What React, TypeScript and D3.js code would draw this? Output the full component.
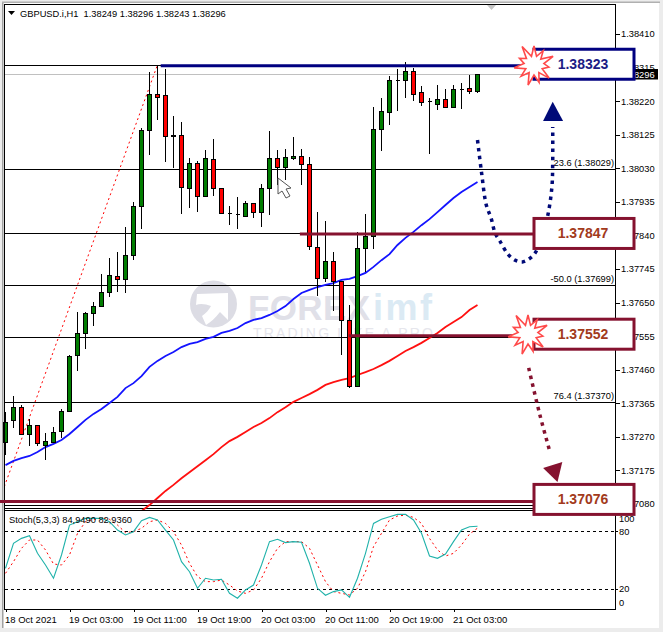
import { useRef, useEffect } from "react";
import * as d3 from "d3";

const opens = [1.37255,1.37318,1.37354,1.37278,1.37303,1.37247,1.37255,1.37286,1.37343,1.37502,1.37564,1.3762,1.3764,1.3768,1.37725,1.37717,1.37785,1.37923,1.38138,1.3824,1.38237,1.38124,1.38124,1.37974,1.38045,1.37952,1.38056,1.37974,1.37903,1.37901,1.37895,1.37932,1.37906,1.37974,1.38059,1.38034,1.38059,1.38065,1.38042,1.37807,1.37719,1.37768,1.37711,1.37601,1.37414,1.37804,1.37838,1.38141,1.38189,1.3828,1.3828,1.38305,1.38246,1.3822,1.38212,1.38226,1.38203,1.38254,1.38257,1.38249];
const highs = [1.3734,1.37386,1.3736,1.3732,1.37303,1.37281,1.37298,1.37349,1.37502,1.37623,1.37623,1.37652,1.37731,1.37776,1.37793,1.37864,1.37935,1.38144,1.38302,1.38319,1.38311,1.38178,1.38161,1.38059,1.38051,1.38082,1.38113,1.37974,1.37923,1.37949,1.37937,1.37932,1.37986,1.38135,1.38082,1.38085,1.38119,1.38085,1.38062,1.37906,1.37881,1.37793,1.37711,1.37643,1.3785,1.37901,1.38203,1.38229,1.38291,1.38311,1.38331,1.38314,1.38263,1.38229,1.38266,1.38254,1.38266,1.38271,1.38294,1.38296];
const lows = [1.37219,1.37295,1.37278,1.37244,1.37244,1.37204,1.37255,1.37267,1.37343,1.37456,1.37519,1.37584,1.3764,1.37666,1.3768,1.37677,1.3777,1.37858,1.38068,1.38167,1.38048,1.38031,1.37901,1.37918,1.37906,1.37952,1.37952,1.37903,1.37869,1.37858,1.37895,1.37889,1.37864,1.37898,1.37983,1.37997,1.38053,1.37983,1.37799,1.37669,1.37708,1.37626,1.37502,1.37408,1.37411,1.37736,1.37802,1.38079,1.38152,1.38192,1.38229,1.3822,1.38206,1.3807,1.38195,1.38201,1.38203,1.38198,1.3824,1.38243];
const closes = [1.37312,1.37354,1.37278,1.37303,1.37253,1.37258,1.37284,1.37343,1.37499,1.37564,1.3762,1.3764,1.3768,1.37728,1.37717,1.37785,1.37923,1.38138,1.3824,1.38232,1.38121,1.38121,1.37977,1.38045,1.37952,1.38059,1.37974,1.37903,1.37903,1.37901,1.37932,1.37906,1.37974,1.38059,1.38034,1.38062,1.38065,1.38042,1.3781,1.37719,1.37768,1.37711,1.37601,1.37414,1.37804,1.37838,1.38141,1.38192,1.3828,1.3828,1.38305,1.3824,1.38218,1.3822,1.38226,1.38203,1.38254,1.38254,1.38249,1.38296];

const blueMa = [1.3719,1.37202,1.3721,1.37216,1.37227,1.37241,1.3725,1.37261,1.37278,1.37298,1.37318,1.37335,1.37349,1.37366,1.37383,1.37408,1.37422,1.37442,1.37468,1.37485,1.37499,1.3751,1.37524,1.37533,1.37538,1.37547,1.37553,1.37564,1.3757,1.37578,1.37592,1.37601,1.37606,1.37615,1.37626,1.3764,1.3766,1.37677,1.37686,1.37694,1.377,1.37705,1.37714,1.37717,1.37725,1.37734,1.37751,1.3777,1.37787,1.37813,1.37833,1.3785,1.37869,1.37886,1.37906,1.37926,1.37946,1.37963,1.37977,1.37991];
const redMaStart = 17;
const redMa = [1.3706,1.37077,1.37097,1.37117,1.37134,1.37153,1.3717,1.37187,1.37204,1.37221,1.37241,1.37258,1.3727,1.37284,1.37298,1.37309,1.37323,1.3734,1.37354,1.37369,1.3738,1.37391,1.37403,1.37417,1.37425,1.37431,1.37436,1.37445,1.37453,1.37462,1.37473,1.37485,1.37499,1.37513,1.37524,1.37536,1.3755,1.37564,1.37581,1.37595,1.37609,1.37629,1.37643];

const stochMain = [41.4,67.2,72.4,75.2,56.9,44.8,31.1,55.2,86.2,89.7,93.1,93.1,93.1,89.7,81,75.9,79.3,90.7,94.1,91.4,81,70.7,48.3,37.9,20.7,31.1,29.3,30,15.5,10.4,19,24.1,44.8,69,71.4,68,69,68.3,46.6,20.7,13.5,17.3,19,11.4,31.1,56.9,87.9,92.1,94.8,97.2,97.2,91.4,77.6,54.1,51.7,56.2,69,81,84.5,84.95];
const stochSignal = [36.2,48.3,62.1,70.7,70.7,60.4,45.9,44.8,55.2,77.6,89.7,92.1,93.1,92.1,86.2,78.3,79.3,82.8,89.7,91.4,87.9,79.3,65.5,46.6,32.8,27.6,27.6,29.3,24.1,17.9,15.5,19,31.1,48.3,62.1,69,69,69,62.1,44.8,27.6,17.3,15.5,13.8,20.7,37.9,63.8,77.6,91.4,95.5,96.5,94.1,87.9,72.4,60.4,54.1,56.9,65.5,76.9,82.94];

const priceTicks = [1.3841,1.38315,1.3822,1.38125,1.3803,1.37935,1.3784,1.37745,1.3765,1.37555,1.3746,1.37365,1.3727,1.37175,1.3708];
const timeTicks = [0,8,16,24,32,40,48,56];
const timeLabels = ["18 Oct 2021","19 Oct 03:00","19 Oct 11:00","19 Oct 19:00","20 Oct 03:00","20 Oct 11:00","20 Oct 19:00","21 Oct 03:00"];
const fibLevels = [1.38323,1.38029,1.37847,1.37699,1.37552,1.3737,1.37076];
const fibLabels = [
  { level: 1.38029, text: "23.6 (1.38029)" },
  { level: 1.37699, text: "-50.0 (1.37699)" },
  { level: 1.3737, text: "76.4 (1.37370)" },
];
const stochLevels = [80, 20];
const stochLabels = [100, 80, 20, 0];

// bar index / price pairs for the hand drawn arrows on top of the chart
const navyPath: [number, number][] = [[59,1.3811],[59.5,1.38019],[60.1,1.37926],[60.7,1.37889],[61.2,1.37847],[61.8,1.37824],[62.8,1.37787],[63.7,1.3777],[64.6,1.37765],[65.4,1.37773],[66.2,1.3779],[67.1,1.37841],[67.8,1.37898],[68.3,1.37977],[68.4,1.38045],[68.4,1.38147]];
const navyHead: [number, number][] = [[67.2,1.38164],[69.7,1.38164],[68.4,1.38218]];
const maroonPath: [number, number][] = [[65.4,1.37465],[66.8,1.37332],[68.1,1.37224]];
const maroonHead: [number, number][] = [[67.2,1.37182],[69.6,1.37199],[69,1.37142]];

const boxes = [
  { level: 1.38323, from: 19.4, color: "#000080", text: "#1c1c85", shift: -0.5, lineShift: 1 },
  { level: 1.37847, from: 36.8, color: "#85122f", text: "#a23a1c", shift: 0.5, lineShift: 1 },
  { level: 1.37552, from: 42.9, color: "#85122f", text: "#a23a1c", shift: -3, lineShift: -1.5 },
  { level: 1.37076, from: -1, color: "#85122f", text: "#a23a1c", shift: -6, lineShift: -4 },
];
const burstRadii = [19, 9, 17, 9, 21, 10, 15, 9, 20, 9, 18, 10, 21, 9, 17, 9, 20, 10, 16, 10, 22, 9];

export default function App() {
  const ref = useRef<SVGSVGElement | null>(null);

  useEffect(() => {
    const svg = d3.select(ref.current);
    svg.selectAll("*").remove();

    const width = 663;
    const height = 632;
    const font = "'Liberation Sans', Arial, sans-serif";
    const fs = 9.3;
    const left = 5;
    const axisX = 615;
    const mainBottom = 510;
    const stochBottom = 609;

    const x = d3.scaleLinear().domain([0, 59]).range([5.5, 477.5]);
    const y = d3.scaleLinear().domain([1.3708, 1.3841]).range([504, 34]);
    const yS = d3.scaleLinear().domain([0, 100]).range([608.3, 511.7]);
    const px = (v: number) => Math.round(v) + 0.5;

    svg.append("rect").attr("width", width).attr("height", height).attr("fill", "#ececec");
    svg.append("rect").attr("x", 3).attr("y", 3).attr("width", 656).attr("height", 625).attr("fill", "#fff");
    svg.append("rect").attr("x", 2).attr("y", 2).attr("width", 1.5).attr("height", 626).attr("fill", "#a0a0a0");
    svg.append("rect").attr("x", 2).attr("y", 1.5).attr("width", 658).attr("height", 1.5).attr("fill", "#b0b0b0");

    const defs = svg.append("defs");
    defs.append("clipPath").attr("id", "main").append("rect")
      .attr("x", left).attr("y", 5).attr("width", axisX - left).attr("height", mainBottom - 5);
    defs.append("clipPath").attr("id", "stoch").append("rect")
      .attr("x", left).attr("y", mainBottom + 1).attr("width", axisX - left).attr("height", stochBottom - mainBottom - 1);

    // watermark
    const wm = svg.append("g");
    wm.append("circle").attr("cx", 213.5).attr("cy", 304).attr("r", 23.5).attr("fill", "#dcdce4");
    wm.append("path").attr("d", "M197 294 L228 293 V320 L220 312 C215 318 211 322 206 325 L202 316 C206 313 209 310 211 306 C206 304 200 303 196 305 Z").attr("fill", "#fff");
    wm.append("text").attr("x", 248).attr("y", 320).attr("font-family", font).attr("font-weight", "bold")
      .attr("font-size", 35).attr("fill", "#e0e0e8").attr("textLength", 122).text("FOREX");
    wm.append("text").attr("x", 373).attr("y", 320).attr("font-family", font).attr("font-weight", "bold")
      .attr("font-size", 36).attr("fill", "#dbeaf4").attr("textLength", 59).text("imf");
    wm.append("text").attr("x", 253).attr("y", 338).attr("font-family", font)
      .attr("font-size", 14).attr("fill", "#e6e6ec").attr("textLength", 180).text("TRADING LIKE A PRO");

    // fibo levels, two more close lines at the bottom
    const grid = svg.append("g").attr("shape-rendering", "crispEdges");
    fibLevels.forEach((l) => {
      grid.append("line").attr("x1", left).attr("x2", axisX).attr("y1", px(y(l))).attr("y2", px(y(l)))
        .attr("stroke", "#000").attr("stroke-width", 1);
    });
    grid.append("line").attr("x1", left).attr("x2", axisX).attr("y1", px(y(1.37076) + 2.5)).attr("y2", px(y(1.37076) + 2.5))
      .attr("stroke", "#000");
    grid.append("line").attr("x1", left).attr("x2", axisX).attr("y1", px(y(closes[59]))).attr("y2", px(y(closes[59])))
      .attr("stroke", "#c0c0c0");

    fibLabels.forEach((f) => {
      svg.append("text").attr("x", 614).attr("y", y(f.level) - 3).attr("text-anchor", "end")
        .attr("font-family", font).attr("font-size", fs).attr("fill", "#000").text(f.text);
    });

    // fibo trend line
    svg.append("path").attr("clip-path", "url(#main)")
      .attr("d", d3.line()([[x(-1), y(1.37076)], [x(19), y(1.38323)]]))
      .attr("stroke", "#ff0000").attr("stroke-dasharray", "2 3").attr("fill", "none");

    // moving averages under the candles
    const lineIdx = d3.line<number>().x((_, i) => x(i)).y((d) => y(d));
    svg.append("path").attr("clip-path", "url(#main)").attr("d", lineIdx(blueMa))
      .attr("fill", "none").attr("stroke", "#1414ff").attr("stroke-width", 1.8);
    const lineRed = d3.line<number>().x((_, i) => x(i + redMaStart)).y((d) => y(d));
    svg.append("path").attr("clip-path", "url(#main)").attr("d", lineRed(redMa))
      .attr("fill", "none").attr("stroke", "#ff1010").attr("stroke-width", 1.8);

    // candles
    const candles = svg.append("g").attr("shape-rendering", "crispEdges");
    opens.forEach((o, i) => {
      const c = closes[i];
      const cx = Math.floor(x(i)) + 0.5;
      candles.append("line").attr("x1", cx).attr("x2", cx).attr("y1", Math.round(y(highs[i]))).attr("y2", Math.round(y(lows[i])))
        .attr("stroke", "#000");
      const y0 = px(y(Math.max(o, c)));
      const y1 = px(y(Math.min(o, c)));
      candles.append("path").attr("d", `M${cx - 2} ${y0}H${cx + 2}V${y1}H${cx - 2}Z`)
        .attr("fill", c >= o ? "#007d00" : "#ff0000").attr("stroke", "#000");
    });

    // mouse pointer left in the screenshot
    svg.append("path").attr("d", "M278 178 L278 194 L282 191 L286 198 L290 196 L286 189 L291 188 Z")
      .attr("fill", "#fff").attr("stroke", "#555").attr("stroke-width", 1);

    // stochastic panel
    const stoch = svg.append("g").attr("clip-path", "url(#stoch)");
    stochLevels.forEach((l) => {
      stoch.append("line").attr("x1", left).attr("x2", axisX).attr("y1", px(yS(l))).attr("y2", px(yS(l)))
        .attr("stroke", "#000").attr("stroke-dasharray", "3 3").attr("shape-rendering", "crispEdges");
    });
    const lineS = d3.line<number>().x((_, i) => x(i)).y((d) => yS(d));
    stoch.append("path").attr("d", lineS(stochSignal)).attr("fill", "none").attr("stroke", "#ff0000").attr("stroke-dasharray", "2 3");
    stoch.append("path").attr("d", lineS(stochMain)).attr("fill", "none").attr("stroke", "#20b2aa").attr("stroke-width", 1.1);
    svg.append("text").attr("x", 9).attr("y", 523).attr("font-family", font).attr("font-size", fs)
      .text("Stoch(5,3,3) 84,9490 82,9360");

    // title
    svg.append("path").attr("d", "M8 11H15L11.5 15Z").attr("fill", "#000");
    svg.append("text").attr("x", 20).attr("y", 16.5).attr("font-family", font).attr("font-size", fs).attr("xml:space", "preserve")
      .text("GBPUSD.i,H1  1.38249 1.38296 1.38243 1.38296");

    // little marker on top
    svg.append("path").attr("d", "M487 5H496L491.5 10Z").attr("fill", "#c4c4c4");

    // panel frames
    const frame = svg.append("g").attr("shape-rendering", "crispEdges").attr("stroke", "#000").attr("fill", "none");
    frame.append("path").attr("d", `M${left - 0.5} 4.5H${axisX + 0.5}V${stochBottom + 0.5}H${left - 0.5}Z`);
    frame.append("line").attr("x1", left).attr("x2", axisX).attr("y1", mainBottom + 0.5).attr("y2", mainBottom + 0.5);

    // axes
    const priceAxis = d3.axisRight(y).tickValues(priceTicks).tickSize(4).tickFormat((d) => d3.format(".5f")(d as number));
    const pg = svg.append("g").attr("transform", `translate(${axisX + 0.5},0)`).call(priceAxis as any);
    pg.select(".domain").remove();
    pg.selectAll("text").attr("font-family", font).attr("font-size", fs).attr("fill", "#000").attr("x", 5.5);
    pg.selectAll("line").attr("shape-rendering", "crispEdges");

    const stochAxis = svg.append("g");
    stochLabels.forEach((v) => {
      const ty = Math.min(Math.max(yS(v), 518), 602);
      stochAxis.append("text").attr("x", 619).attr("y", ty + 3.5).attr("font-family", font).attr("font-size", fs).text(v);
      if (v === 80 || v === 20) {
        stochAxis.append("line").attr("x1", axisX).attr("x2", axisX + 3).attr("y1", px(yS(v))).attr("y2", px(yS(v)))
          .attr("stroke", "#000").attr("shape-rendering", "crispEdges");
      }
    });

    const timeAxis = d3.axisBottom(x).tickValues(timeTicks).tickSize(3)
      .tickFormat((d) => timeLabels[timeTicks.indexOf(d as number)]);
    const tg = svg.append("g").attr("transform", `translate(0,${stochBottom})`).call(timeAxis as any);
    tg.select(".domain").remove();
    tg.selectAll("text").attr("font-family", font).attr("font-size", 9.5).attr("fill", "#000")
      .attr("text-anchor", "start").attr("dx", -1).attr("y", 7).attr("dy", "0.71em");
    tg.selectAll("line").attr("shape-rendering", "crispEdges");

    // current price flag
    svg.append("rect").attr("x", 619).attr("y", 69).attr("width", 39).attr("height", 10.5).attr("fill", "#000");
    svg.append("text").attr("x", 621).attr("y", 77.5).attr("font-family", font).attr("font-size", fs).attr("fill", "#fff").text("1.38296");

    // drawn arrows
    const curve = d3.line().curve(d3.curveCatmullRom);
    const toPx = (p: [number, number][]) => p.map(([a, b]) => [x(a), y(b)] as [number, number]);
    svg.append("path").attr("d", curve(toPx(navyPath))).attr("fill", "none").attr("stroke", "#000a78")
      .attr("stroke-width", 3.5).attr("stroke-dasharray", "3.5 4.5");
    svg.append("path").attr("d", d3.line()(toPx(navyHead)) + "Z").attr("fill", "#000a78");
    svg.append("path").attr("d", curve(toPx(maroonPath))).attr("fill", "none").attr("stroke", "#85122f")
      .attr("stroke-width", 3.5).attr("stroke-dasharray", "3.5 4.5");
    svg.append("path").attr("d", d3.line()(toPx(maroonHead)) + "Z").attr("fill", "#85122f");

    // level boxes
    const boxX = x(66) + 0.5;
    boxes.forEach((b) => {
      const ly = y(b.level);
      svg.append("line").attr("x1", Math.max(x(b.from), 0)).attr("x2", boxX).attr("y1", ly + b.lineShift).attr("y2", ly + b.lineShift)
        .attr("stroke", b.color).attr("stroke-width", 3);
      svg.append("rect").attr("x", boxX).attr("y", ly + b.shift - 15).attr("width", 100).attr("height", 30)
        .attr("fill", "#fff").attr("stroke", b.color).attr("stroke-width", 3);
      svg.append("text").attr("x", boxX + 49).attr("y", ly + b.shift + 5).attr("text-anchor", "middle")
        .attr("font-family", font).attr("font-weight", "bold").attr("font-size", 14).attr("fill", b.text)
        .text(d3.format(".5f")(b.level));
    });

    // bursts on the first and third box
    const burst = d3.lineRadial<number>().angle((_, i) => (i / burstRadii.length) * 2 * Math.PI).radius((d) => d).curve(d3.curveLinearClosed);
    [[534, 65], [528, 334]].forEach(([cx, cy]) => {
      svg.append("path").attr("transform", `translate(${cx},${cy})`).attr("d", burst(burstRadii))
        .attr("fill", "#fff").attr("stroke", "#ff4a4a").attr("stroke-width", 1.6);
    });
  }, []);

  return <svg ref={ref} width={663} height={632} style={{ position: "absolute", left: 0, top: 0 }}></svg>;
}
